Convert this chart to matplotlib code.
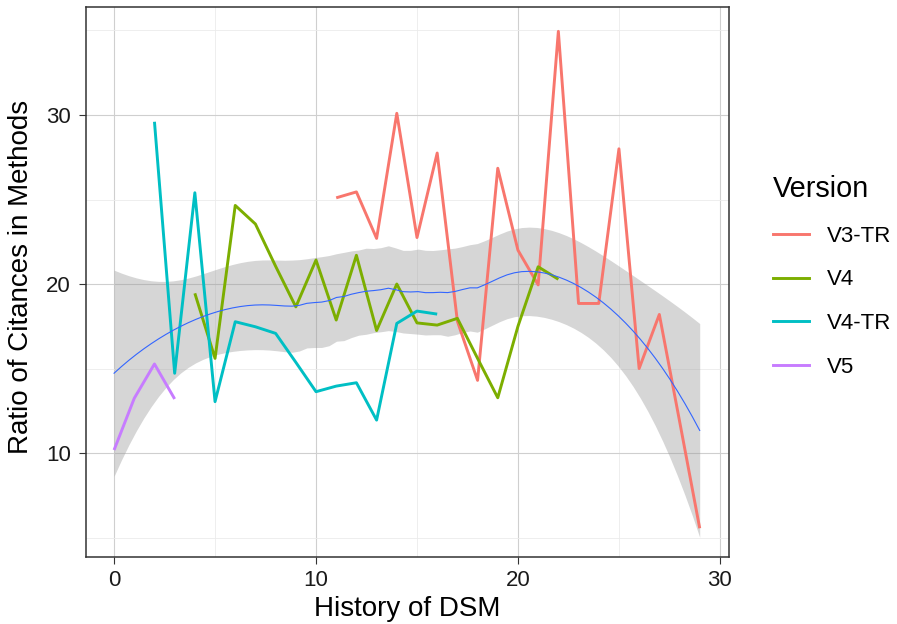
import numpy as np
import matplotlib
matplotlib.use("Agg")
import matplotlib.pyplot as plt
from matplotlib.lines import Line2D

# ---------------- data ----------------
versions = ["V3-TR", "V4", "V4-TR", "V5"]
colors = ["#F8766D", "#7CAE00", "#00BFC4", "#C77CFF"]

x_v3tr = list(range(11, 30))
y_v3tr = [25.1, 25.45, 22.7, 30.1, 22.75, 27.75, 17.8, 14.3, 26.85, 22.0,
          19.95, 34.95, 18.85, 18.85, 28.0, 15.0, 18.2, 11.9, 5.55]

x_v4 = list(range(4, 23))
y_v4 = [19.45, 15.6, 24.65, 23.55, 21.05, 18.65, 21.42, 17.87, 21.7, 17.25,
        20.0, 17.7, 17.57, 17.97, 15.6, 13.27, 17.5, 21.02, 20.28]

x_v4tr = list(range(2, 17))
y_v4tr = [29.6, 14.72, 25.4, 13.04, 17.77, 17.47, 17.08, 15.37, 13.63, 13.96,
          14.16, 11.95, 17.67, 18.4, 18.22]

x_v5 = [0, 1, 2, 3]
y_v5 = [10.18, 13.24, 15.27, 13.2]

xs = [x_v3tr, x_v4, x_v4tr, x_v5]
ys = [y_v3tr, y_v4, y_v4tr, y_v5]

x_ticks = [0, 10, 20, 30]
y_ticks = [10, 20, 30]


# ---------------- loess (like geom_smooth default) ----------------
def loess_rows(x, x0s, span=0.75):
    n = len(x)
    q = int(np.floor(n * span))
    rows = []
    for x0 in x0s:
        d = np.abs(x - x0)
        h = np.sort(d)[q - 1]
        u = np.clip(d / h, 0, 1)
        w = (1 - u ** 3) ** 3
        X = np.column_stack([np.ones(n), x - x0, (x - x0) ** 2])
        XtW = X.T * w
        A = XtW @ X
        row = np.linalg.solve(A, XtW)[0]
        rows.append(row)
    return np.array(rows)


def t975(df):
    z = 1.959963984540054
    return (z + (z ** 3 + z) / (4 * df)
            + (5 * z ** 5 + 16 * z ** 3 + 3 * z) / (96 * df ** 2)
            + (3 * z ** 7 + 19 * z ** 5 + 17 * z ** 3 - 15 * z) / (384 * df ** 3))


x_all = np.concatenate([np.array(v, float) for v in xs])
y_all = np.concatenate([np.array(v, float) for v in ys])
n = len(x_all)
L = loess_rows(x_all, x_all)
res = y_all - L @ y_all
IL = np.eye(n) - L
M = IL.T @ IL
d1 = np.trace(M)
d2 = np.trace(M @ M)
sigma = np.sqrt(np.sum(res ** 2) / d1)
df = d1 ** 2 / d2
xg = np.linspace(x_all.min(), x_all.max(), 80)
Lg = loess_rows(x_all, xg)
fit = Lg @ y_all
se = sigma * np.sqrt(np.sum(Lg ** 2, axis=1))
tq = t975(df)

# ---------------- figure ----------------
plt.rcParams['font.family'] = ['Liberation Sans', 'DejaVu Sans']
fig = plt.figure(figsize=(8.97, 6.24), dpi=100)
ax = fig.add_axes([86 / 897, 1 - 557 / 624, (729 - 86) / 897, (557 - 7) / 624])

ax.fill_between(xg, fit - tq * se, fit + tq * se, color="#999999", alpha=0.4,
                linewidth=0, zorder=2)
for xv, yv, c in zip(xs, ys, colors):
    ax.plot(xv, yv, color=c, linewidth=2.1, zorder=3, solid_capstyle='butt')
ax.plot(xg, fit, color="#3366FF", linewidth=0.8, zorder=4)

ax.set_xlim(-1.39, 30.45)
ax.set_ylim(3.85, 36.39)
ax.set_xticks(x_ticks)
ax.set_yticks(y_ticks)
ax.set_xticks([5, 15, 25], minor=True)
ax.set_yticks([5, 15, 25, 35], minor=True)
ax.grid(which='major', color="#CFCFCF", linewidth=0.8, zorder=0)
ax.grid(which='minor', color="#EBEBEB", linewidth=0.6, zorder=0)
ax.set_axisbelow(True)
ax.tick_params(which='minor', length=0)
ax.tick_params(which='major', length=5, width=0.8, color="#333333",
               labelsize=16, labelcolor="#1A1A1A")
ax.tick_params(axis='y', pad=6)
ax.tick_params(axis='x', pad=4)
for s in ax.spines.values():
    s.set_color("#333333")
    s.set_linewidth(1.1)

ax.set_xlabel("History of DSM", fontsize=20, color="black", labelpad=4)
ax.set_ylabel("Ratio of Citances in Methods", fontsize=20, color="black")
ax.yaxis.label.set_va('center')
ax.yaxis.set_label_coords((21 - 86) / 643, (557 - 277) / 550)

handles = [Line2D([0], [0], color=c, linewidth=2.1) for c in colors]
leg = fig.legend(handles, versions, title="Version", loc='upper left',
                 bbox_to_anchor=(753 / 897, 1 - 155 / 624), frameon=False,
                 fontsize=16, title_fontsize=20.8, handlelength=1.62,
                 handletextpad=0.8, labelspacing=1.02, alignment='left')

fig.savefig("out.png", dpi=100)
